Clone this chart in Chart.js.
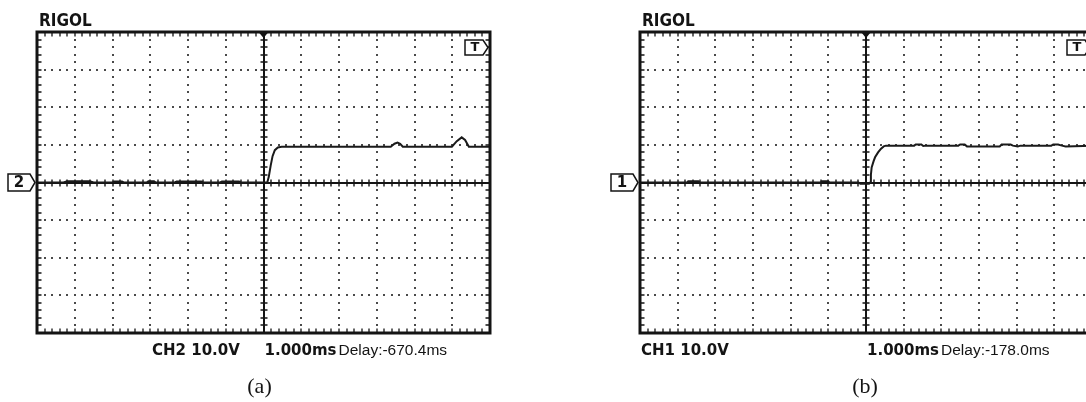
<!DOCTYPE html>
<html>
<head>
<meta charset="utf-8">
<script src="https://cdn.jsdelivr.net/npm/chart.js@4.4.1/dist/chart.umd.min.js"></script>
<style>
  html, body { margin: 0; padding: 0; background: #fff; overflow: hidden; }
  #wrap { position: relative; width: 1086px; height: 402px; overflow: hidden; }
  #ca { position: absolute; left: 0; top: 0; }
  #cb { position: absolute; left: 543px; top: 0; }
</style>
</head>
<body>
<div id="wrap">
  <canvas id="ca" width="543" height="402"></canvas>
  <canvas id="cb" width="560" height="402"></canvas>
</div>
<script>
// Graticule: 12 x 8 divisions, 1.000 ms/div horizontally, 10.0 V/div vertically
const timeRange = [-6, 6];      // ms
const voltRange = [-40, 40];    // V

// Capture (a): CH2 trace
const timeA = [-6, -5.3, -5.2, -4.6, -4.5, -4.0, -3.95, -3.75, -3.7, -3.1, -3.05, -2.9, -2.85,
  -2.35, -2.3, -1.65, -1.6, -1.15, -1.1, -0.65, -0.6, 0.1, 0.14, 0.19, 0.24, 0.3, 0.38, 0.48,
  3.37, 3.47, 3.55, 3.62, 3.69, 4.99, 5.12, 5.25, 5.34, 5.44, 6];
const ch2Volts = [0, 0, 0.3, 0.3, 0, 0, 0.25, 0.25, 0, 0, 0.3, 0.3, 0,
  0, 0.25, 0.25, 0, 0, 0.25, 0.25, 0, 0, 1.5, 4.5, 7.0, 8.6, 9.3, 9.5,
  9.5, 10.3, 10.6, 10.3, 9.5, 9.5, 11.0, 12.0, 11.3, 9.5, 9.5];

// Capture (b): CH1 trace
const timeB = [-6, -4.75, -4.72, -4.45, -4.42, -1.2, -1.17, -1.0, -0.97, -0.2, -0.15, 0.08, 0.11,
  0.13, 0.15, 0.2, 0.24, 0.32, 0.4, 0.47, 0.53, 1.28, 1.32, 1.47, 1.52, 1.6, 2.45, 2.5, 2.62,
  2.68, 3.55, 3.6, 3.84, 3.9, 4.03, 4.1, 4.92, 4.97, 5.1, 5.2, 5.3, 6];
const ch1Volts = [0, 0, 0.3, 0.3, 0, 0, 0.3, 0.3, 0, 0, -0.3, -0.3, 0,
  2.0, 4.0, 5.6, 6.7, 8.0, 9.0, 9.6, 9.8, 9.8, 10.1, 10.1, 9.7, 9.8, 9.8, 10.1, 10.1,
  9.6, 9.6, 10.1, 10.1, 9.8, 9.6, 9.8, 9.8, 10.1, 10.1, 9.8, 9.6, 9.8];

// Screen annotations
const brandText = 'RIGOL';
const panelA = { channel: '2', scaleText: 'CH2 10.0V', timeText: '1.000ms', delayText: 'Delay:-670.4ms', caption: '(a)' };
const panelB = { channel: '1', scaleText: 'CH1 10.0V', timeText: '1.000ms', delayText: 'Delay:-178.0ms', caption: '(b)' };

const INK = '#141414';

function gridPositions(chart) {
  const xs = chart.scales.x, ys = chart.scales.y;
  const xMajor = [], yMajor = [], xMinor = [], yMinor = [];
  for (let t = timeRange[0]; t <= timeRange[1]; t += 1) xMajor.push(xs.getPixelForValue(t));
  for (let v = voltRange[0]; v <= voltRange[1]; v += 10) yMajor.push(ys.getPixelForValue(v));
  for (let i = 0; i <= 60; i++) xMinor.push(xs.getPixelForValue(timeRange[0] + i * 0.2));
  for (let i = 0; i <= 40; i++) yMinor.push(ys.getPixelForValue(voltRange[0] + i * 2));
  return { xMajor, yMajor, xMinor, yMinor, x0: xs.getPixelForValue(0), y0: ys.getPixelForValue(0) };
}

const scopeScreen = {
  id: 'scopeScreen',
  beforeDatasetsDraw(chart) {
    const ctx = chart.ctx, a = chart.chartArea;
    const g = gridPositions(chart);
    ctx.save();
    // dotted division lines
    ctx.fillStyle = '#4a4a4a';
    g.xMajor.forEach((x, i) => {
      if (i === 0 || i === 6 || i === 12) return;
      g.yMinor.forEach(y => ctx.fillRect(Math.round(x) - 1, Math.round(y) - 1, 2, 2));
    });
    g.yMajor.forEach((y, j) => {
      if (j === 0 || j === 4 || j === 8) return;
      g.xMinor.forEach(x => ctx.fillRect(Math.round(x) - 1, Math.round(y) - 1, 2, 2));
    });
    // centre axes with minor ticks
    ctx.strokeStyle = INK;
    ctx.lineWidth = 2;
    ctx.beginPath();
    ctx.moveTo(Math.round(g.x0), a.top); ctx.lineTo(Math.round(g.x0), a.bottom);
    ctx.moveTo(a.left, Math.round(g.y0)); ctx.lineTo(a.right, Math.round(g.y0));
    ctx.stroke();
    ctx.lineWidth = 1.4;
    ctx.beginPath();
    g.yMinor.forEach(y => { ctx.moveTo(Math.round(g.x0) - 3.5, Math.round(y)); ctx.lineTo(Math.round(g.x0) + 3.5, Math.round(y)); });
    g.xMinor.forEach(x => { ctx.moveTo(Math.round(x), Math.round(g.y0) - 3.5); ctx.lineTo(Math.round(x), Math.round(g.y0) + 3.5); });
    ctx.stroke();
    ctx.restore();
  },
  afterDatasetsDraw(chart, args, opts) {
    const ctx = chart.ctx, a = chart.chartArea;
    const g = gridPositions(chart);
    ctx.save();
    // frame with inward ticks
    ctx.strokeStyle = INK;
    ctx.lineWidth = 3;
    ctx.strokeRect(a.left, a.top, a.right - a.left, a.bottom - a.top);
    ctx.lineWidth = 1.3;
    ctx.beginPath();
    g.xMinor.forEach(x => {
      const px = Math.round(x);
      ctx.moveTo(px, a.top); ctx.lineTo(px, a.top + 4.5);
      ctx.moveTo(px, a.bottom); ctx.lineTo(px, a.bottom - 4.5);
    });
    g.yMinor.forEach(y => {
      const py = Math.round(y);
      ctx.moveTo(a.left, py); ctx.lineTo(a.left + 4.5, py);
      ctx.moveTo(a.right, py); ctx.lineTo(a.right - 4.5, py);
    });
    ctx.stroke();

    // trigger position marker
    ctx.fillStyle = INK;
    ctx.beginPath();
    ctx.moveTo(g.x0 - 5, a.top); ctx.lineTo(g.x0 + 5, a.top); ctx.lineTo(g.x0, a.top + 6);
    ctx.closePath(); ctx.fill();

    // channel ground marker on the left
    const y0 = g.y0;
    ctx.fillStyle = '#fff';
    ctx.strokeStyle = INK;
    ctx.lineWidth = 1.5;
    ctx.beginPath();
    ctx.moveTo(a.left - 29, y0 - 8.5); ctx.lineTo(a.left - 7, y0 - 8.5); ctx.lineTo(a.left - 2, y0);
    ctx.lineTo(a.left - 7, y0 + 8.5); ctx.lineTo(a.left - 29, y0 + 8.5); ctx.closePath();
    ctx.fill(); ctx.stroke();
    ctx.fillStyle = INK;
    ctx.font = 'bold 15px "DejaVu Sans"';
    ctx.textAlign = 'center';
    ctx.textBaseline = 'middle';
    ctx.fillText(opts.channel, a.left - 18, y0 + 1);

    // trigger level marker, top right
    const r = a.right;
    ctx.fillStyle = '#fff';
    ctx.beginPath();
    ctx.moveTo(r - 25, a.top + 8); ctx.lineTo(r - 7, a.top + 8); ctx.lineTo(r - 2, a.top + 15.5);
    ctx.lineTo(r - 7, a.top + 23); ctx.lineTo(r - 25, a.top + 23); ctx.closePath();
    ctx.fill(); ctx.stroke();
    ctx.fillStyle = INK;
    ctx.font = 'bold 13px "DejaVu Sans"';
    ctx.fillText('T', r - 15, a.top + 16);

    // texts
    ctx.textAlign = 'left';
    ctx.textBaseline = 'alphabetic';
    ctx.font = 'bold 17px "DejaVu Sans Condensed"';
    ctx.fillText(brandText, a.left + 2, 26);
    ctx.font = 'bold 15px "DejaVu Sans"';
    ctx.fillText(opts.scaleText, a.left + opts.scaleOffset, 355);
    ctx.fillText(opts.timeText, g.x0 + 1, 355);
    const tw = ctx.measureText(opts.timeText).width;
    ctx.font = '15.5px "Liberation Sans"';
    ctx.fillText(opts.delayText, g.x0 + tw + 3, 355);
    ctx.textAlign = 'center';
    ctx.font = '22px "Liberation Serif"';
    ctx.fillText(opts.caption, g.x0 + opts.captionShift, 393);
    ctx.restore();
  }
};

function makeScope(canvasId, times, volts, panel, padding) {
  return new Chart(document.getElementById(canvasId), {
    type: 'line',
    data: {
      datasets: [{
        data: times.map((t, i) => ({ x: t, y: volts[i] })),
        borderColor: '#1a1a1a',
        borderWidth: 2,
        pointRadius: 0,
        tension: 0,
        fill: false
      }]
    },
    options: {
      responsive: false,
      animation: false,
      events: [],
      layout: { padding },
      scales: {
        x: { type: 'linear', min: timeRange[0], max: timeRange[1], display: false },
        y: { type: 'linear', min: voltRange[0], max: voltRange[1], display: false }
      },
      plugins: {
        legend: { display: false },
        tooltip: { enabled: false },
        scopeScreen: panel
      }
    },
    plugins: [scopeScreen]
  });
}

makeScope('ca', timeA, ch2Volts, Object.assign({ scaleOffset: 115, captionShift: -4 }, panelA),
  { left: 37, right: 53, top: 32, bottom: 69 });
makeScope('cb', timeB, ch1Volts, Object.assign({ scaleOffset: 1, captionShift: -1 }, panelB),
  { left: 97, right: 11, top: 32, bottom: 69 });
</script>
</body>
</html>
